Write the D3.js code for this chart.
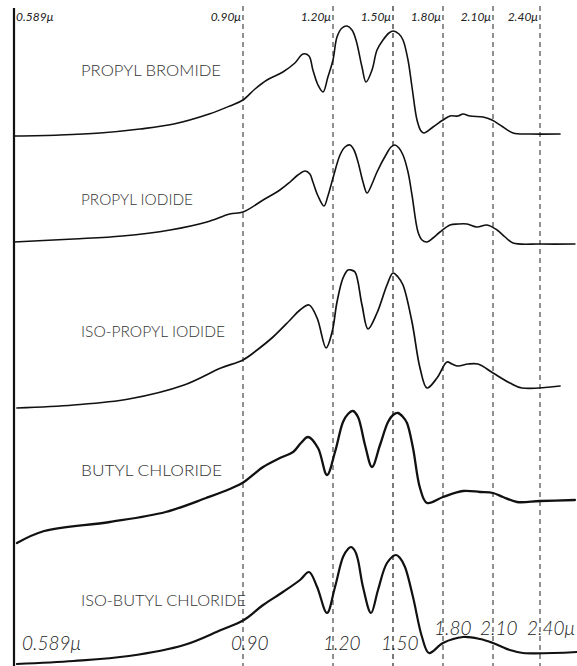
<!DOCTYPE html>
<html>
<head>
<meta charset="utf-8">
<script src="https://cdn.jsdelivr.net/npm/d3@7"></script>
<style>
  html, body { margin: 0; padding: 0; background: #fff; }
  svg { display: block; }
</style>
</head>
<body>
<svg id="chart" width="577" height="666"></svg>
<script>
// Reference wavelengths (microns) marked by the dashed guide lines
const wavelengths = [0.589, 0.90, 1.20, 1.50, 1.80, 2.10, 2.40];
const topTickLabels = ["0.589μ", "0.90μ", "1.20μ", "1.50μ", "1.80μ", "2.10μ", "2.40μ"];
const bottomTickLabels = ["0.589μ", "0.90", "1.20", "1.50", "1.80", "2.10", "2.40μ"];

const compounds = ["PROPYL BROMIDE", "PROPYL IODIDE", "ISO-PROPYL IODIDE", "BUTYL CHLORIDE", "ISO-BUTYL CHLORIDE"];

// Galvanometer deflection for each compound: [wavelength μ, deflection]
const propylBromide = [
  [0.589, 0], [0.651, 1], [0.706, 3], [0.760, 7], [0.806, 12], [0.854, 22], [0.882, 30],
  [0.900, 36], [0.940, 47], [0.980, 56], [1.033, 64], [1.073, 73], [1.100, 82], [1.120, 80],
  [1.133, 66], [1.150, 51], [1.167, 44], [1.183, 59], [1.200, 76], [1.220, 99], [1.245, 108],
  [1.270, 110], [1.295, 106], [1.315, 96], [1.345, 69], [1.365, 54], [1.395, 66], [1.420, 86],
  [1.450, 96], [1.480, 103], [1.500, 105], [1.536, 102], [1.560, 96], [1.590, 76], [1.614, 49],
  [1.644, 16], [1.668, 5], [1.686, 3], [1.740, 9], [1.800, 16], [1.842, 20], [1.890, 20],
  [1.920, 22], [1.962, 20], [2.040, 19], [2.094, 16], [2.164, 9], [2.228, 3], [2.336, 2], [2.528, 2]
];
const propylIodide = [
  [0.589, 2], [0.670, 5], [0.736, 8], [0.801, 14], [0.851, 22], [0.882, 30], [0.900, 32],
  [0.967, 44], [1.023, 54], [1.057, 62], [1.083, 69], [1.107, 73], [1.123, 70], [1.133, 62],
  [1.150, 48], [1.170, 38], [1.183, 48], [1.200, 66], [1.235, 89], [1.260, 97], [1.285, 99],
  [1.305, 94], [1.325, 82], [1.350, 62], [1.370, 51], [1.395, 60], [1.420, 72], [1.470, 91],
  [1.490, 97], [1.512, 99], [1.536, 96], [1.560, 89], [1.590, 72], [1.614, 49], [1.650, 12],
  [1.674, 4], [1.704, 2], [1.740, 6], [1.782, 12], [1.842, 19], [1.890, 20], [1.944, 20],
  [2.004, 17], [2.064, 19], [2.126, 14], [2.177, 7], [2.228, 1], [2.400, 0], [2.623, 0]
];
const isoPropylIodide = [
  [0.593, 0], [0.670, 3], [0.745, 9], [0.820, 23], [0.870, 40], [0.900, 48], [0.947, 58],
  [1.000, 71], [1.057, 88], [1.090, 98], [1.120, 103], [1.147, 90], [1.177, 60], [1.197, 76],
  [1.220, 106], [1.250, 130], [1.275, 138], [1.290, 138], [1.310, 136], [1.345, 103],
  [1.375, 79], [1.420, 95], [1.470, 123], [1.500, 135], [1.530, 131], [1.560, 123],
  [1.614, 86], [1.662, 40], [1.704, 20], [1.764, 30], [1.824, 46], [1.854, 44], [1.890, 42],
  [1.950, 44], [2.010, 44], [2.100, 35], [2.208, 25], [2.285, 20], [2.528, 22]
];
const butylChloride = [
  [0.593, 0], [0.630, 12], [0.719, 21], [0.795, 31], [0.850, 45], [0.882, 54], [0.903, 61],
  [0.967, 76], [1.023, 85], [1.067, 91], [1.093, 100], [1.117, 106], [1.150, 95], [1.180, 68],
  [1.210, 91], [1.250, 121], [1.275, 129], [1.300, 132], [1.325, 126], [1.360, 98],
  [1.395, 76], [1.435, 98], [1.475, 121], [1.500, 128], [1.530, 130], [1.560, 126],
  [1.584, 120], [1.620, 95], [1.662, 55], [1.704, 40], [1.800, 46], [1.920, 52], [2.022, 51],
  [2.100, 50], [2.164, 46], [2.253, 41], [2.400, 42], [2.623, 43]
];
const isoButylChloride = [
  [0.593, 0], [0.670, 3], [0.745, 8], [0.820, 19], [0.870, 34], [0.903, 44], [0.967, 59],
  [1.033, 72], [1.090, 84], [1.120, 92], [1.147, 77], [1.180, 51], [1.210, 77], [1.250, 107],
  [1.275, 115], [1.290, 117], [1.310, 113], [1.325, 104], [1.350, 77], [1.390, 51],
  [1.425, 74], [1.470, 101], [1.518, 109], [1.542, 106], [1.572, 97], [1.620, 67],
  [1.674, 27], [1.716, 11], [1.800, 21], [1.920, 27], [2.022, 25], [2.100, 21], [2.208, 14],
  [2.291, 11], [2.636, 12]
];

const series = [propylBromide, propylIodide, isoPropylIodide, butylChloride, isoButylChloride];

// ---- layout ----
const svg = d3.select("#chart");
const W = 577, H = 666;

// Prism dispersion: the wavelength axis is not linear, so map piecewise through the marked lines
const x = d3.scaleLinear()
  .domain(wavelengths)
  .range([14, 243, 333, 393, 443, 493, 540]);

// Each trace sits on its own baseline; deflection in pixels of the record
const baselines = [136, 244, 408, 543, 664];
const labelY = [76, 205, 337, 476, 606];
const labelWidths = [140, 112, 144, 141, 165];
const strokeW = [1.6, 1.6, 1.7, 2.3, 2.2];

svg.append("rect").attr("width", W).attr("height", H).attr("fill", "#fff");

// dashed guide lines at the marked wavelengths
svg.append("g").selectAll("line")
  .data(wavelengths.slice(1))
  .join("line")
  .attr("x1", d => x(d)).attr("x2", d => x(d))
  .attr("y1", 6).attr("y2", H)
  .attr("stroke", "#222")
  .attr("stroke-width", (d, i) => i === 2 ? 1.2 : 1)
  .attr("stroke-dasharray", "5,4");

// solid left edge at 0.589μ
svg.append("line")
  .attr("x1", x(wavelengths[0])).attr("x2", x(wavelengths[0]))
  .attr("y1", 8).attr("y2", H)
  .attr("stroke", "#111").attr("stroke-width", 2.2);

// top wavelength labels, written just left of each line
svg.append("g").selectAll("text")
  .data(topTickLabels)
  .join("text")
  .attr("x", (d, i) => i === 0 ? x(wavelengths[0]) + 2 : x(wavelengths[i]) - 2)
  .attr("y", 21)
  .attr("text-anchor", (d, i) => i === 0 ? "start" : "end")
  .attr("font-family", "Lato, 'DejaVu Sans', sans-serif")
  .attr("font-style", "italic")
  .attr("font-size", 12)
  .attr("fill", "#222")
  .text(d => d);

// bottom wavelength labels
const bottomY = [650, 650, 650, 650, 635, 635, 635];
const bottomDx = [8, -12, -10, -12, -9, -13, -13];
svg.append("g").selectAll("text")
  .data(bottomTickLabels)
  .join("text")
  .attr("x", (d, i) => x(wavelengths[i]) + bottomDx[i])
  .attr("y", (d, i) => bottomY[i])
  .attr("font-family", "Lato, 'DejaVu Sans', sans-serif")
  .attr("font-weight", 300)
  .attr("font-style", "italic")
  .attr("font-size", 19)
  .attr("fill", "#222")
  .text(d => d);

// traces
const panels = svg.append("g").selectAll("g")
  .data(series)
  .join("g");

panels.append("path")
  .attr("fill", "none")
  .attr("stroke", "#111")
  .attr("stroke-width", (d, i) => strokeW[i])
  .attr("stroke-linejoin", "round")
  .attr("stroke-linecap", "round")
  .attr("d", (d, i) => {
    const y = d3.scaleLinear().domain([0, 100]).range([baselines[i], baselines[i] - 100]);
    return d3.line().x(p => x(p[0])).y(p => y(p[1])).curve(d3.curveCatmullRom.alpha(0.5))(d);
  });

// compound names
panels.append("text")
  .attr("x", 81)
  .attr("y", (d, i) => labelY[i])
  .attr("font-family", "Lato, 'DejaVu Sans', sans-serif")
  .attr("font-weight", 300)
  .attr("font-size", 16)
  .attr("fill", "#333")
  .attr("textLength", (d, i) => labelWidths[i])
  .attr("lengthAdjust", "spacingAndGlyphs")
  .text((d, i) => compounds[i]);
</script>
</body>
</html>
